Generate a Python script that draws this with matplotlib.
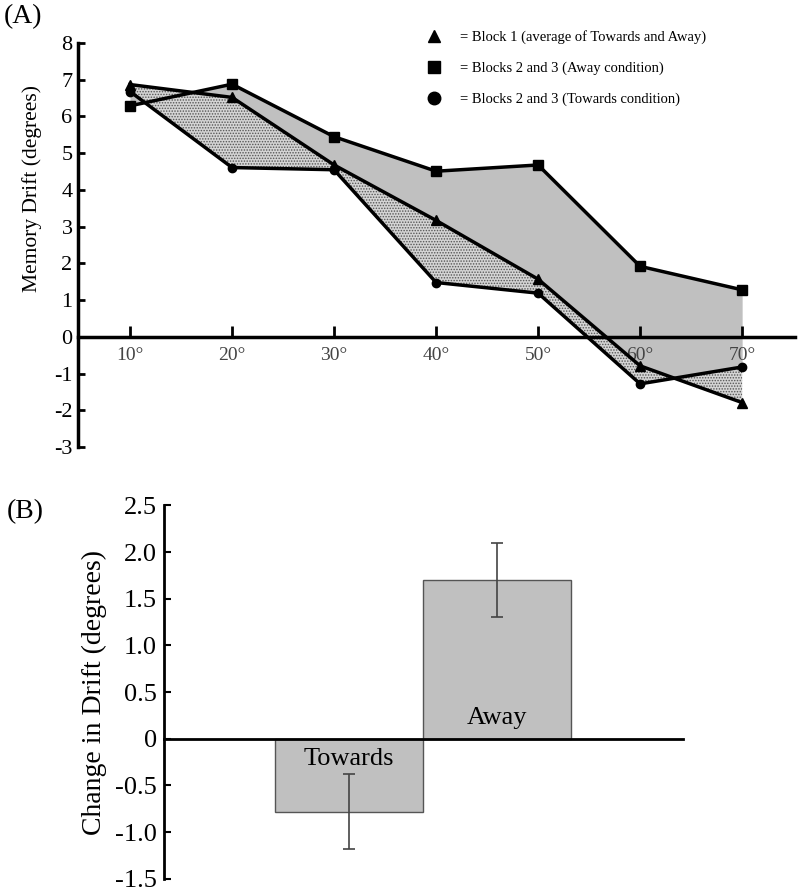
import numpy as np
import matplotlib

matplotlib.use("Agg")
import matplotlib.pyplot as plt
from matplotlib.lines import Line2D

plt.rcParams["font.family"] = ["Liberation Serif", "DejaVu Serif"]
plt.rcParams["hatch.linewidth"] = 0.7

# Panel A data
angles = [10, 20, 30, 40, 50, 60, 70]
angle_labels = ["10°", "20°", "30°", "40°", "50°", "60°", "70°"]
block1 = [6.87, 6.52, 4.68, 3.17, 1.57, -0.79, -1.79]
away = [6.29, 6.88, 5.45, 4.51, 4.68, 1.92, 1.28]
towards = [6.68, 4.61, 4.55, 1.48, 1.19, -1.28, -0.82]
legend_labels = [
    "= Block 1 (average of Towards and Away)",
    "= Blocks 2 and 3 (Away condition)",
    "= Blocks 2 and 3 (Towards condition)",
]
a_yticks = [-3, -2, -1, 0, 1, 2, 3, 4, 5, 6, 7, 8]

# Panel B data
conditions = ["Towards", "Away"]
change = [-0.78, 1.70]
change_err = [0.40, 0.40]
b_yticks = [-1.5, -1.0, -0.5, 0, 0.5, 1.0, 1.5, 2.0, 2.5]
b_yticklabels = ["-1.5", "-1.0", "-0.5", "0", "0.5", "1.0", "1.5", "2.0", "2.5"]

fig = plt.figure(figsize=(8.0, 8.93), dpi=100)

# ---- (A) ----
axA = fig.add_axes([0.0975, 0.4994, 0.8965, 0.4524])
x = np.array(angles)
axA.fill_between(x, away, towards, color="#c0c0c0", linewidth=0, zorder=1)
axA.fill_between(x, block1, towards, facecolor="#d4d4d4", edgecolor="#555555",
                 hatch="......", linewidth=0, zorder=2)
axA.plot(x, away, color="black", lw=2.5, marker="s", ms=7, zorder=3)
axA.plot(x, block1, color="black", lw=2.5, marker="^", ms=7, zorder=3)
axA.plot(x, towards, color="black", lw=2.5, marker="o", ms=6, zorder=3)

axA.set_xlim(4.9, 75.2)
axA.set_ylim(-3, 8)
axA.spines["top"].set_visible(False)
axA.spines["right"].set_visible(False)
axA.spines["bottom"].set_position(("data", 0))
axA.spines["left"].set_linewidth(2.5)
axA.spines["bottom"].set_linewidth(2.5)
axA.set_xticks(angles)
axA.set_xticklabels(angle_labels, color="#444444", fontsize=14)
axA.set_yticks(a_yticks)
axA.set_yticklabels([str(t) for t in a_yticks], fontsize=16)
axA.tick_params(axis="x", direction="in", length=8, width=2, pad=7)
axA.tick_params(axis="y", direction="in", length=5, width=2, pad=4)
axA.set_ylabel("Memory Drift (degrees)", fontsize=15.5)
axA.yaxis.set_label_coords(-0.050, 0.64)

handles = [
    Line2D([], [], ls="none", marker="^", color="black", ms=9),
    Line2D([], [], ls="none", marker="s", color="black", ms=8),
    Line2D([], [], ls="none", marker="o", color="black", ms=9),
]
fig.legend(handles, legend_labels, loc="upper left",
           bbox_to_anchor=(0.522, 0.974), bbox_transform=fig.transFigure,
           frameon=False, fontsize=10.5, handlelength=1.2, handletextpad=1.2,
           labelspacing=1.2, borderpad=0)

fig.text(0.005, 0.995, "(A)", fontsize=20, va="top", ha="left")

# ---- (B) ----
axB = fig.add_axes([0.205, 0.016, 0.649, 0.4181])
pos = np.arange(len(conditions))
axB.bar(pos, change, width=1.0, color="#c0c0c0", edgecolor="#555555",
        linewidth=1.0, zorder=1)
axB.errorbar(pos, change, yerr=change_err, fmt="none", ecolor="#444444",
             elinewidth=1.2, capsize=4, capthick=1.2, zorder=2)
for i, (name, v) in enumerate(zip(conditions, change)):
    axB.text(i, np.sign(v) * 0.22, name, ha="center", va="center", fontsize=19)

axB.set_xlim(-1.25, 2.26)
axB.set_ylim(-1.5, 2.5)
axB.spines["top"].set_visible(False)
axB.spines["right"].set_visible(False)
axB.spines["bottom"].set_position(("data", 0))
axB.spines["left"].set_linewidth(2.0)
axB.spines["bottom"].set_linewidth(2.0)
axB.set_xticks([])
axB.set_yticks(b_yticks)
axB.set_yticklabels(b_yticklabels, fontsize=19)
axB.tick_params(axis="y", direction="in", length=5, width=1.5, pad=5)
axB.set_ylabel("Change in Drift (degrees)", fontsize=20, labelpad=6)

fig.text(0.008, 1 - 499 / 893, "(B)", fontsize=20, va="top", ha="left")

fig.savefig("out.png", dpi=100)
